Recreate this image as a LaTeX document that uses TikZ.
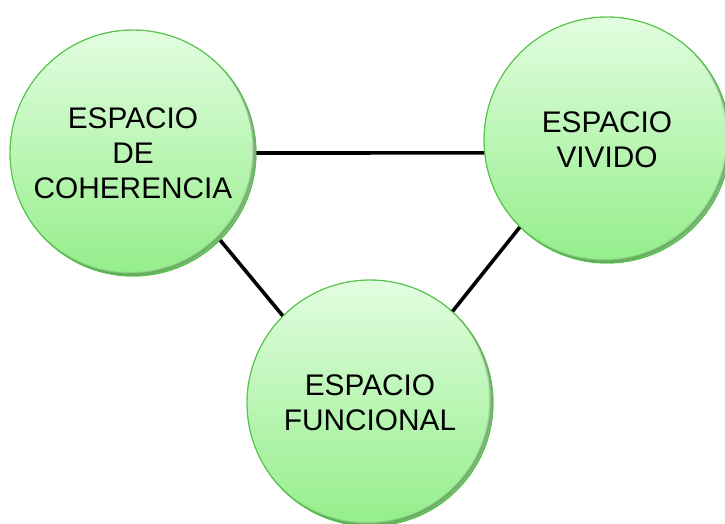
\documentclass[tikz,border=0pt]{standalone}
\usepackage{fontspec}
\setmainfont{Liberation Sans}
\definecolor{bubbletop}{HTML}{E2FDE0}
\definecolor{bubblebot}{HTML}{94EE8A}
\definecolor{bubbleedge}{HTML}{55C44A}
\begin{document}
\begin{tikzpicture}[x=1pt,y=-1pt]
\tikzset{
  bubble/.style={circle, minimum size=246pt, inner sep=0pt, draw=bubbleedge, line width=0.9pt,
    top color=bubbletop, bottom color=bubblebot, align=center,
    font=\fontsize{29.8}{35}\selectfont, text=black},
  link/.style={line width=3.6pt, black},
  shade1/.style={line width=8pt, black, opacity=0.07},
  shade2/.style={line width=4.5pt, black, opacity=0.10},
  shade3/.style={line width=2pt, black, opacity=0.14}
}
\newcommand{\innershadow}[1]{%
  \begin{scope}
    \clip (#1) circle[radius=123pt];
    \draw[shade1] ([shift={(-3,-3)}]#1) circle[radius=126pt];
    \draw[shade2] ([shift={(-3,-3)}]#1) circle[radius=125pt];
    \draw[shade3] ([shift={(-3,-3)}]#1) circle[radius=124.5pt];
  \end{scope}}
\useasboundingbox (0,0) rectangle (725,524);
\fill[white] (0,0) rectangle (725,524);
\node[bubble] (c1) at (133,153) {ESPACIO\\DE\\COHERENCIA};
\node[bubble] (c2) at (607,140) {ESPACIO\\VIVIDO};
\node[bubble] (c3) at (370,403) {ESPACIO\\FUNCIONAL};
\innershadow{c1.center}
\innershadow{c2.center}
\innershadow{c3.center}
\draw[bubbleedge, line width=0.9pt] (c1) circle[radius=123pt];
\draw[bubbleedge, line width=0.9pt] (c2) circle[radius=123pt];
\draw[bubbleedge, line width=0.9pt] (c3) circle[radius=123pt];
\draw[link] (c1.0) -- (c2.186);
\draw[link] (c1.-45) -- (c3.135);
\draw[link] (c2.225) -- (c3.48);
\end{tikzpicture}
\end{document}
